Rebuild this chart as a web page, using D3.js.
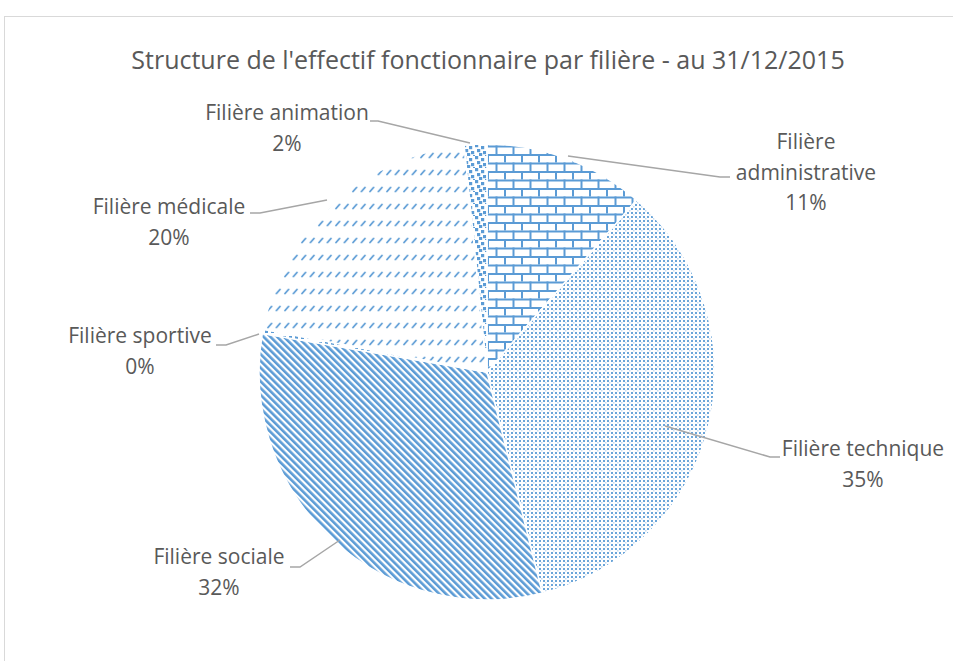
<!DOCTYPE html>
<html><head><meta charset="utf-8">
<script src="https://cdn.jsdelivr.net/npm/d3@7/dist/d3.min.js"></script>
<style>body{margin:0;background:#fff}svg{display:block}</style>
</head><body>
<script>
const categories = ["Filière administrative","Filière technique","Filière sociale","Filière sportive","Filière médicale","Filière animation"];
const values = [11.4, 34.7, 31.6, 0.3, 20.4, 1.6];
const percentLabels = ["11%","35%","32%","0%","20%","2%"];
const titleText = "Structure de l'effectif fonctionnaire par filière - au 31/12/2015";

const W = 953, H = 661, blue = "#5B9BD5";
const FONT = "'Open Sans', Lato, sans-serif";
const svg = d3.select("body").append("svg").attr("width", W).attr("height", H);
const defs = svg.append("defs");

// patterns
const pBrick = defs.append("pattern").attr("id","p0").attr("patternUnits","userSpaceOnUse")
  .attr("width",17).attr("height",17).attr("x",0).attr("y",3);
pBrick.append("rect").attr("width",17).attr("height",17).attr("fill","#fff");
pBrick.append("rect").attr("x",0).attr("y",0).attr("width",17).attr("height",2).attr("fill",blue);
pBrick.append("rect").attr("x",0).attr("y",8.5).attr("width",17).attr("height",2).attr("fill",blue);
pBrick.append("rect").attr("x",0).attr("y",0).attr("width",2).attr("height",8.5).attr("fill",blue);
pBrick.append("rect").attr("x",8.5).attr("y",8.5).attr("width",2).attr("height",8.5).attr("fill",blue);

const pDot = defs.append("pattern").attr("id","p1").attr("patternUnits","userSpaceOnUse")
  .attr("width",8).attr("height",8);
pDot.append("rect").attr("width",8).attr("height",8).attr("fill","#fff");
[[0,0],[4,0],[0,4],[4,4]].forEach(([x,y])=>pDot.append("rect").attr("x",x).attr("y",y).attr("width",2).attr("height",2).attr("fill",blue).attr("opacity",0.9));
[[2,2],[6,6]].forEach(([x,y])=>pDot.append("rect").attr("x",x).attr("y",y).attr("width",1.5).attr("height",1.5).attr("fill",blue).attr("opacity",0.35));

const pDiag = defs.append("pattern").attr("id","p2").attr("patternUnits","userSpaceOnUse")
  .attr("width",4.8).attr("height",10).attr("patternTransform","rotate(-45)");
pDiag.append("rect").attr("width",4.8).attr("height",10).attr("fill","#fff");
pDiag.append("rect").attr("width",2.6).attr("height",10).attr("fill",blue);

const pSport = defs.append("pattern").attr("id","p3").attr("patternUnits","userSpaceOnUse")
  .attr("width",6).attr("height",6);
pSport.append("rect").attr("width",6).attr("height",6).attr("fill","#fff");
pSport.append("rect").attr("width",3).attr("height",3).attr("fill",blue);

const pDash = defs.append("pattern").attr("id","p4").attr("patternUnits","userSpaceOnUse")
  .attr("width",8.5).attr("height",17);
pDash.append("rect").attr("width",8.5).attr("height",17).attr("fill","#fff");
pDash.append("line").attr("x1",2).attr("y1",6.5).attr("x2",5.5).attr("y2",2.5).attr("stroke",blue).attr("stroke-width",1.8).attr("stroke-linecap","round");

const pConf = defs.append("pattern").attr("id","p5").attr("patternUnits","userSpaceOnUse")
  .attr("width",12).attr("height",12);
pConf.append("rect").attr("width",12).attr("height",12).attr("fill","#fff");
[[0,0],[6,2],[2,5],[8,7],[4,9],[10,11]].forEach(([x,y])=>pConf.append("rect").attr("x",x).attr("y",y).attr("width",3.2).attr("height",3.2).attr("fill",blue));

// border
svg.append("rect").attr("x",4.5).attr("y",16.5).attr("width",W).attr("height",H).attr("fill","#fff").attr("stroke","#D9D9D9").attr("stroke-width",1);

// title
svg.append("text").attr("x",488).attr("y",69).attr("text-anchor","middle")
  .attr("font-family",FONT).attr("font-size",25).attr("fill","#595959").text(titleText);

const cx = 487, cy = 372, r = 228;
const pie = d3.pie().sort(null).value(d=>d);
const arcs = pie(values);
const arc = d3.arc().innerRadius(0).outerRadius(r);
const g = svg.append("g").attr("transform",`translate(${cx},${cy})`);
g.selectAll("path").data(arcs).join("path")
  .attr("d",arc).attr("fill",(d,i)=>`url(#p${i})`).attr("stroke","#fff").attr("stroke-width",1.5);

const lab = [
  {x:806, y:149, lines:[categories[0].split(" ")[0], "administrative", percentLabels[0]], line:[[568,156],[720,177],[730,177]]},
  {x:863, y:456, lines:[categories[1], percentLabels[1]], line:[[665,426],[770,457],[780,457]]},
  {x:219, y:564, lines:[categories[2], percentLabels[2]], line:[[340,540],[300,567],[290,567]]},
  {x:140, y:343, lines:[categories[3], percentLabels[3]], line:[[259,334],[226,345],[216,345]]},
  {x:169, y:214, lines:[categories[4], percentLabels[4]], line:[[327,200],[260,213],[250,213]]},
  {x:287, y:120, lines:[categories[5], percentLabels[5]], line:[[470,143],[378,121],[370,121]]}
];
const lg = svg.append("g").attr("font-family",FONT).attr("font-size",21).attr("fill","#595959");
lab.forEach(l=>{
  svg.append("path").attr("d",d3.line()(l.line)).attr("fill","none").attr("stroke","#A6A6A6").attr("stroke-width",1.5);
  const t = lg.append("text").attr("x",l.x).attr("y",l.y).attr("text-anchor","middle");
  l.lines.forEach((s,k)=>t.append("tspan").attr("x",l.x).attr("dy",k?30.5:0).text(s));
});
</script>
</body></html>
